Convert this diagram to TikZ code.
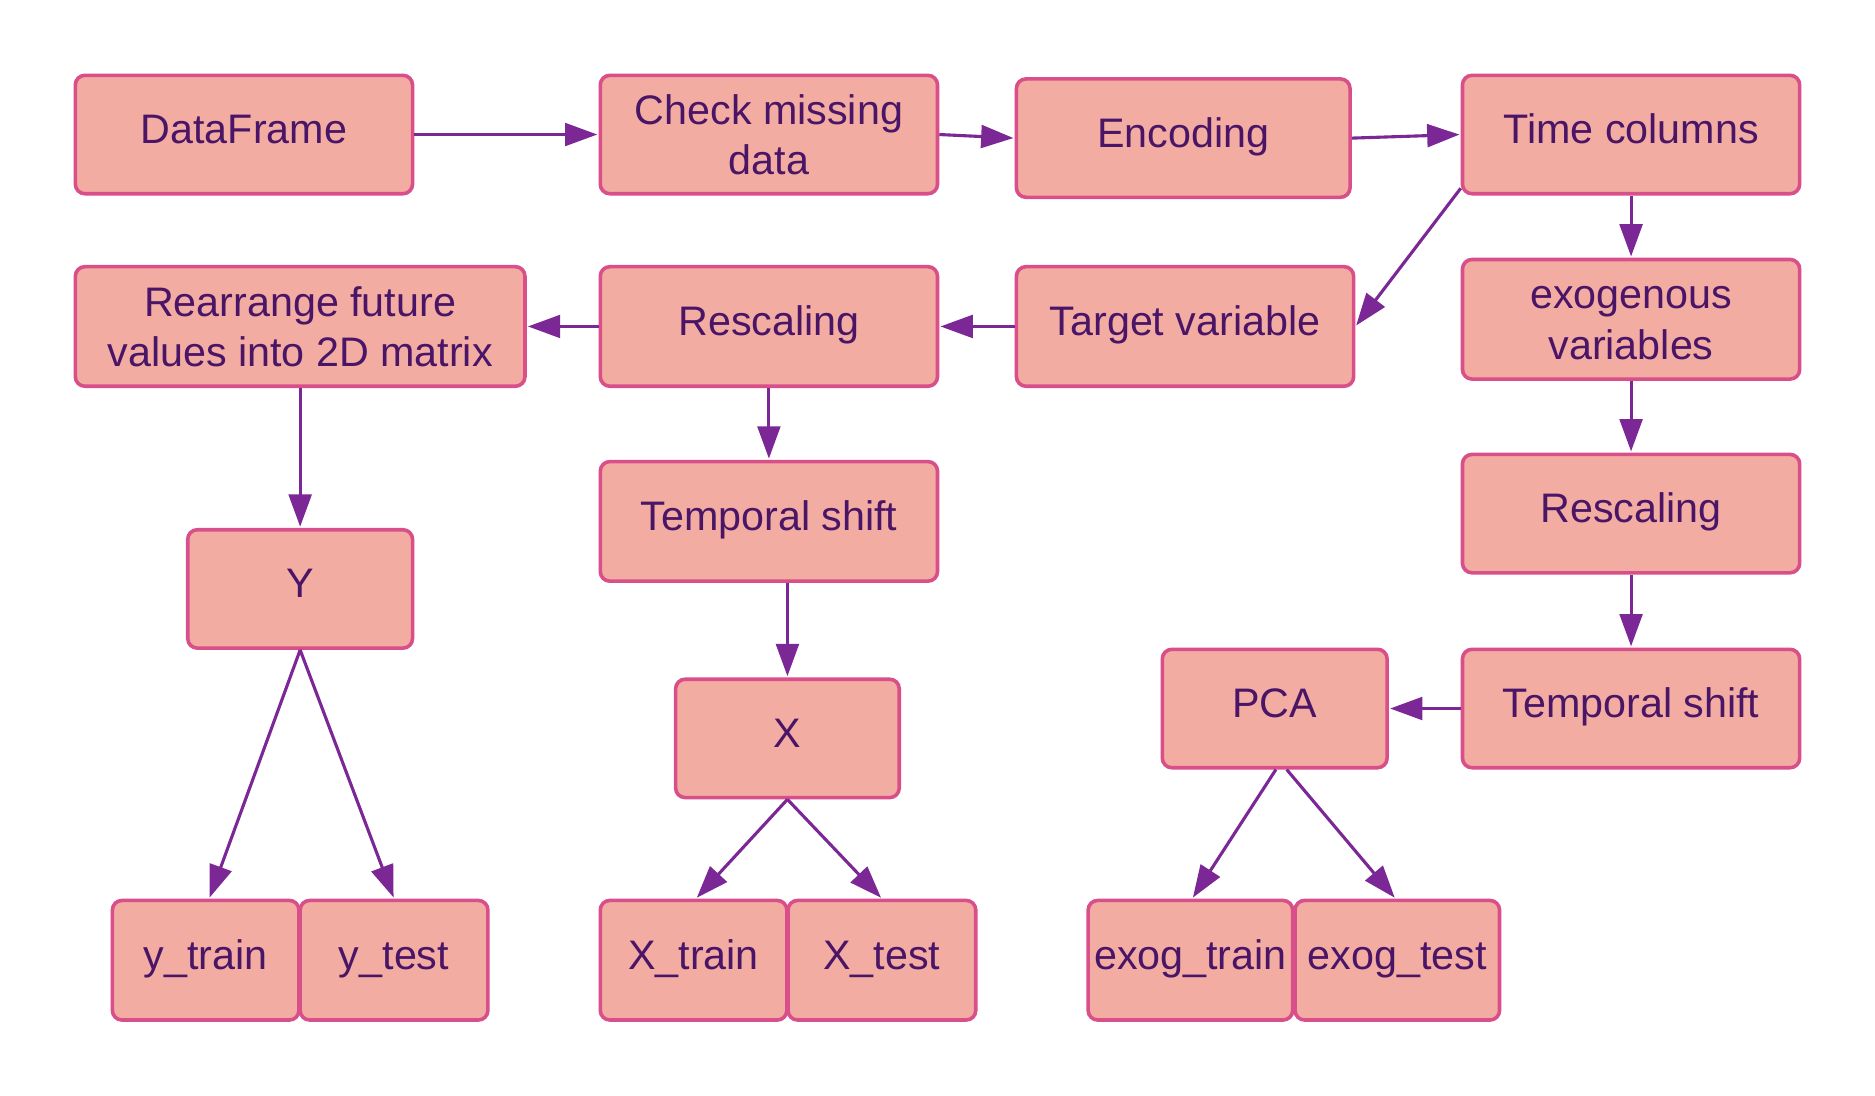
\documentclass[tikz,border=0pt]{standalone}
\usepackage{fontspec}
\setmainfont{Liberation Sans}
\usetikzlibrary{arrows.meta}
\definecolor{boxfill}{HTML}{F2ACA2}
\definecolor{boxline}{HTML}{D94F8A}
\definecolor{arrowcol}{HTML}{7B2896}
\definecolor{textcol}{HTML}{4A1566}
\tikzset{
  box/.style={draw=boxline, fill=boxfill, line width=3pt, rounded corners=8pt,
    inner sep=0pt, align=center, text=textcol,
    font=\fontsize{34.5}{42}\selectfont},
  one/.style={box, text height=25pt, text depth=10pt},
  conn/.style={draw=arrowcol, line width=2.6pt,
    -{Triangle[length=27pt,width=19pt]}, shorten >=1pt}
}
\begin{document}
\begin{tikzpicture}[x=1pt,y=-1pt]
\useasboundingbox (0,0) rectangle (1568,916);
\fill[white] (0,0) rectangle (1568,916);
% row 1
\node[one, minimum width=282pt, minimum height=99pt] (df) at (204,112.5) {DataFrame};
\node[box, minimum width=282pt, minimum height=99pt] (chk) at (643,112.5) {Check missing\\data};
\node[one, minimum width=279pt, minimum height=99pt] (enc) at (989.5,115.5) {Encoding};
\node[one, minimum width=282pt, minimum height=99pt] (time) at (1364,112.5) {Time columns};
% row 2
\node[box, minimum width=376pt, minimum height=100pt] (rearr) at (251,273) {Rearrange future\\values into 2D matrix};
\node[one, minimum width=282pt, minimum height=100pt] (resc1) at (643,273) {Rescaling};
\node[one, minimum width=282pt, minimum height=100pt] (target) at (991,273) {Target variable};
\node[box, minimum width=282pt, minimum height=100pt] (exog) at (1364,267) {\vphantom{l}exogenous\\variables};
% middle
\node[one, minimum width=282pt, minimum height=99pt] (resc2) at (1364,429.5) {Rescaling};
\node[one, minimum width=282pt, minimum height=100pt] (ts1) at (643,436) {Temporal shift};
\node[one, minimum width=188pt, minimum height=99pt] (Y) at (251,492.5) {Y};
\node[one, minimum width=187pt, minimum height=99pt] (X) at (658.5,617.5) {X};
\node[one, minimum width=188pt, minimum height=99pt] (pca) at (1066,592.5) {PCA};
\node[one, minimum width=282pt, minimum height=99pt] (ts2) at (1364,592.5) {Temporal shift};
% bottom
\node[one, minimum width=156pt, minimum height=100pt] (ytrain) at (172,803) {y\_train};
\node[one, minimum width=157pt, minimum height=100pt] (ytest) at (329.5,803) {y\_test};
\node[one, minimum width=156pt, minimum height=100pt] (xtrain) at (580,803) {X\_train};
\node[one, minimum width=157pt, minimum height=100pt] (xtest) at (737.5,803) {X\_test};
\node[one, minimum width=171pt, minimum height=100pt] (etrain) at (995.5,803) {exog\_train};
\node[one, minimum width=171pt, minimum height=100pt] (etest) at (1168.5,803) {exog\_test};
% connectors
\draw[conn] (df.east) -- (chk.west);
\draw[conn] (chk.east) -- (enc.west);
\draw[conn] (enc.east) -- (time.west);
\draw[conn] ([yshift=6pt]time.south west) -- (target.east);
\draw[conn] (time.south) -- (exog.north);
\draw[conn] (exog.south) -- (resc2.north);
\draw[conn] (resc2.south) -- (ts2.north);
\draw[conn] (ts2.west) -- (pca.east);
\draw[conn] (target.west) -- (resc1.east);
\draw[conn] (resc1.west) -- (rearr.east);
\draw[conn] (rearr.south) -- (Y.north);
\draw[conn] (resc1.south) -- (ts1.north);
\draw[conn] (ts1.south -| X.north) -- (X.north);
\draw[conn] (Y.south) -- ([xshift=3pt]ytrain.north);
\draw[conn] (Y.south) -- (ytest.north);
\draw[conn] (X.south) -- ([xshift=2pt]xtrain.north);
\draw[conn] (X.south) -- (xtest.north);
\draw[conn] ([xshift=1pt]pca.south) -- ([xshift=1.5pt]etrain.north);
\draw[conn] ([xshift=10pt]pca.south) -- ([xshift=-1.5pt]etest.north);
\end{tikzpicture}
\end{document}
